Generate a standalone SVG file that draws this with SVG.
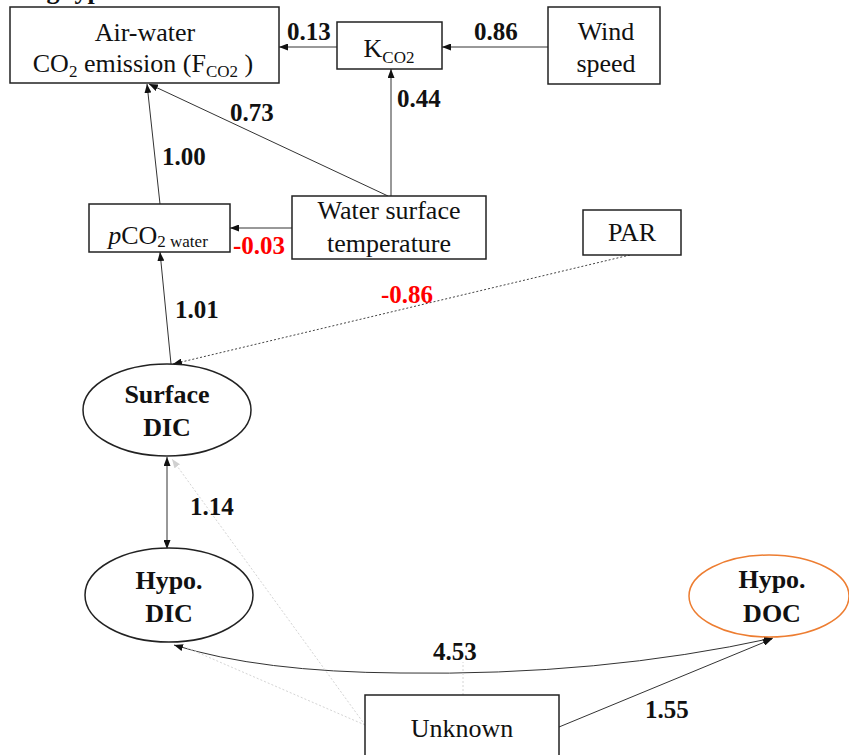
<svg xmlns="http://www.w3.org/2000/svg" width="849" height="755" viewBox="0 0 849 755">
  <defs>
    <marker id="arr" markerUnits="userSpaceOnUse" markerWidth="9" markerHeight="7" refX="9" refY="3.5" orient="auto-start-reverse">
      <path d="M0,0 L9,3.5 L0,7 z" fill="#111"/>
    </marker>
    <marker id="arrFaint" markerUnits="userSpaceOnUse" markerWidth="9" markerHeight="7" refX="9" refY="3.5" orient="auto-start-reverse">
      <path d="M0,0 L9,3.5 L0,7 z" fill="#d0d0d0"/>
    </marker>
    <style>
      text { font-family: "Liberation Serif", "Times New Roman", serif; fill: #111; }
      .box { fill: #fff; stroke: #222; stroke-width: 1.5; }
      .ell { fill: #fff; stroke: #222; stroke-width: 1.5; }
      .doc { fill: #fff; stroke: #ED7D31; stroke-width: 1.5; }
      .lbl { font-size: 26px; text-anchor: middle; }
      .blbl { font-size: 26px; font-weight: bold; text-anchor: middle; }
      .coef { font-size: 25px; font-weight: bold; }
      .neg { fill: #FF0000; }
      .sub { font-size: 17px; }
      .edge { fill: none; stroke: #333; stroke-width: 1; }
      .dot { fill: none; stroke: #444; stroke-width: 1; stroke-dasharray: 2 2; }
      .faint { fill: none; stroke: #d4d4d4; stroke-width: 1; stroke-dasharray: 2 2; }
    </style>
  </defs>

  <!-- panel title (runs off the top edge) -->
  <text x="-20" y="-1" font-size="26" font-weight="bold">Mixing type</text>

  <!-- connectors -->
  <g id="connectors">
    <line class="edge" x1="548" y1="47" x2="442" y2="47" marker-end="url(#arr)"/>
    <line class="edge" x1="337" y1="47" x2="279" y2="47" marker-end="url(#arr)"/>
    <line class="edge" x1="391" y1="196" x2="391" y2="69" marker-end="url(#arr)"/>
    <line class="edge" x1="388" y1="196" x2="149" y2="84" marker-end="url(#arr)"/>
    <line class="edge" x1="160" y1="204" x2="147" y2="84" marker-end="url(#arr)"/>
    <line class="edge" x1="292" y1="228" x2="230" y2="228" marker-end="url(#arr)"/>
    <line class="edge" x1="171" y1="364" x2="160" y2="252" marker-end="url(#arr)"/>
    <line class="dot" x1="630" y1="255" x2="173" y2="364" marker-end="url(#arr)"/>
    <line class="edge" x1="167" y1="457" x2="167" y2="549" marker-start="url(#arr)" marker-end="url(#arr)"/>
    <path class="edge" d="M174,645 Q260,672 400,673 Q600,676 773,638" marker-start="url(#arr)" marker-end="url(#arr)"/>
    <line class="edge" x1="559" y1="727" x2="772" y2="639" marker-end="url(#arr)"/>
    <line class="faint" x1="365" y1="725" x2="172" y2="459" marker-end="url(#arrFaint)"/>
    <line class="faint" x1="365" y1="725" x2="185" y2="647"/>
    <line class="faint" x1="463" y1="695" x2="463" y2="662"/>
  </g>

  <!-- path coefficients -->
  <g id="coefficients">
    <text class="coef" x="287" y="40">0.13</text>
    <text class="coef" x="474" y="40">0.86</text>
    <text class="coef" x="397" y="107">0.44</text>
    <text class="coef" x="230" y="121">0.73</text>
    <text class="coef" x="162" y="165">1.00</text>
    <text class="coef neg" x="233" y="254">-0.03</text>
    <text class="coef" x="175" y="318">1.01</text>
    <text class="coef neg" x="381" y="303">-0.86</text>
    <text class="coef" x="190" y="515">1.14</text>
    <text class="coef" x="433" y="660">4.53</text>
    <text class="coef" x="645" y="718">1.55</text>
  </g>

  <g id="fco2">
    <rect class="box" x="10" y="7" width="269" height="76"/>
    <text class="lbl" x="145" y="41">Air-water</text>
    <text class="lbl" x="143" y="72">CO<tspan class="sub" dy="5">2</tspan><tspan dy="-5"> emission (F</tspan><tspan class="sub" dy="5">CO2</tspan><tspan dy="-5"> )</tspan></text>
  </g>

  <g id="kco2">
    <rect class="box" x="337" y="22" width="105" height="47"/>
    <text class="lbl" x="389" y="57">K<tspan class="sub" dy="6">CO2</tspan></text>
  </g>

  <g id="wind">
    <rect class="box" x="548" y="7" width="112" height="77"/>
    <text class="lbl" x="606" y="40">Wind</text>
    <text class="lbl" x="606" y="72">speed</text>
  </g>

  <g id="pco2">
    <rect class="box" x="89" y="204" width="141" height="48"/>
    <text class="lbl" x="158" y="244"><tspan font-style="italic">p</tspan>CO<tspan class="sub" dy="3">2 water</tspan></text>
  </g>

  <g id="wst">
    <rect class="box" x="292" y="196" width="194" height="63"/>
    <text class="lbl" x="389" y="219">Water surface</text>
    <text class="lbl" x="389" y="252">temperature</text>
  </g>

  <g id="par">
    <rect class="box" x="583" y="210" width="98" height="45"/>
    <text class="lbl" x="632" y="241">PAR</text>
  </g>

  <g id="surface-dic">
    <ellipse class="ell" cx="167" cy="410" rx="84" ry="46"/>
    <text class="blbl" x="167" y="403">Surface</text>
    <text class="blbl" x="167" y="436">DIC</text>
  </g>

  <g id="hypo-dic">
    <ellipse class="ell" cx="169" cy="595" rx="84" ry="47"/>
    <text class="blbl" x="169" y="589">Hypo.</text>
    <text class="blbl" x="169" y="622">DIC</text>
  </g>

  <g id="hypo-doc">
    <ellipse class="doc" cx="769" cy="596" rx="80" ry="41"/>
    <text class="blbl" x="772" y="588">Hypo.</text>
    <text class="blbl" x="772" y="622">DOC</text>
  </g>

  <g id="unknown">
    <rect class="box" x="365" y="695" width="194" height="70"/>
    <text class="lbl" x="462" y="737">Unknown</text>
  </g>
</svg>
